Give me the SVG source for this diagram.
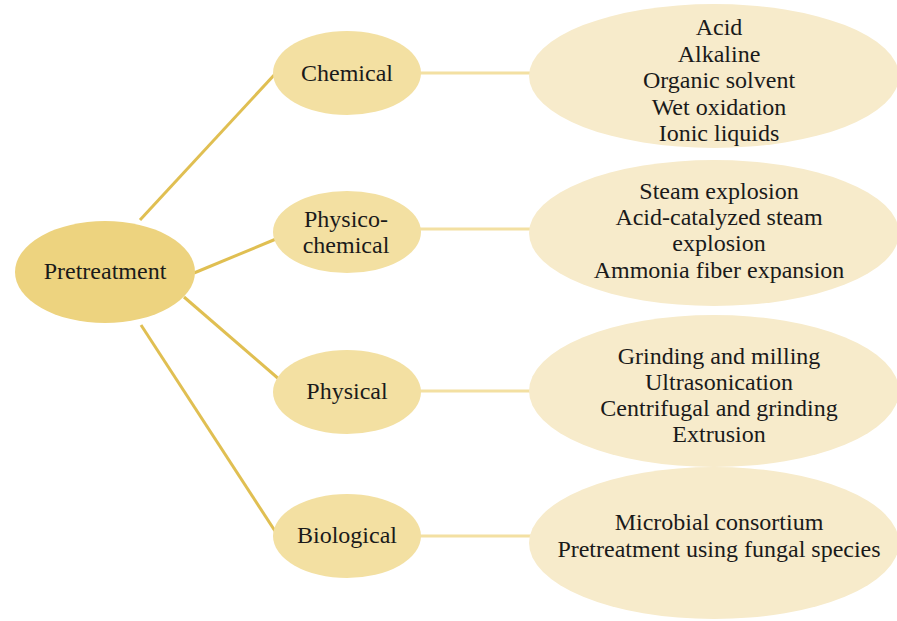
<svg xmlns="http://www.w3.org/2000/svg" width="897" height="621" viewBox="0 0 897 621">
<style>
text{font-family:"Liberation Serif","Times New Roman",serif;font-size:24px;fill:#1a1a1a;text-anchor:middle}
.root{fill:#EDD37F}
.mid{fill:#F3E0A2}
.leaf{fill:#F7EBCB}
.spoke{stroke:#E0BF52;stroke-width:3;fill:none}
.link{stroke:#F3E0A2;stroke-width:3;fill:none}
</style>
<rect width="897" height="621" fill="#FFFFFF"/>
<g id="connectors">
<line class="spoke" x1="140" y1="220" x2="276" y2="73"/>
<line class="spoke" x1="194" y1="273" x2="276" y2="239"/>
<line class="spoke" x1="184" y1="297" x2="280" y2="380"/>
<line class="spoke" x1="141" y1="325" x2="275" y2="531"/>
<line class="link" x1="418" y1="73" x2="532" y2="73"/>
<line class="link" x1="418" y1="229" x2="532" y2="229"/>
<line class="link" x1="418" y1="391" x2="532" y2="391"/>
<line class="link" x1="418" y1="536" x2="532" y2="536"/>
</g>
<g id="pretreatment">
<ellipse class="root" cx="105" cy="272" rx="90" ry="51"/>
<text x="105" y="279">Pretreatment</text>
</g>
<g id="chemical">
<ellipse class="mid" cx="347" cy="73" rx="74" ry="42"/>
<text x="347" y="81">Chemical</text>
</g>
<g id="physicochemical">
<ellipse class="mid" cx="347" cy="232" rx="74" ry="41"/>
<text x="346" y="227">Physico-</text>
<text x="346" y="253">chemical</text>
</g>
<g id="physical">
<ellipse class="mid" cx="347" cy="392" rx="74" ry="42"/>
<text x="347" y="399">Physical</text>
</g>
<g id="biological">
<ellipse class="mid" cx="347" cy="536" rx="74" ry="42"/>
<text x="347" y="543">Biological</text>
</g>
<g id="chemical-methods">
<ellipse class="leaf" cx="714" cy="76" rx="185" ry="72"/>
<text x="719" y="35">Acid</text>
<text x="719" y="62">Alkaline</text>
<text x="719" y="88">Organic solvent</text>
<text x="719" y="115">Wet oxidation</text>
<text x="719" y="141">Ionic liquids</text>
</g>
<g id="physicochemical-methods">
<ellipse class="leaf" cx="714" cy="233" rx="185" ry="73"/>
<text x="719" y="199">Steam explosion</text>
<text x="719" y="225">Acid-catalyzed steam</text>
<text x="719" y="251">explosion</text>
<text x="719" y="278">Ammonia fiber expansion</text>
</g>
<g id="physical-methods">
<ellipse class="leaf" cx="714" cy="391" rx="185" ry="76"/>
<text x="719" y="364">Grinding and milling</text>
<text x="719" y="390">Ultrasonication</text>
<text x="719" y="416">Centrifugal and grinding</text>
<text x="719" y="442">Extrusion</text>
</g>
<g id="biological-methods">
<ellipse class="leaf" cx="714" cy="543" rx="185" ry="76"/>
<text x="719" y="530">Microbial consortium</text>
<text x="719" y="557">Pretreatment using fungal species</text>
</g>
</svg>
